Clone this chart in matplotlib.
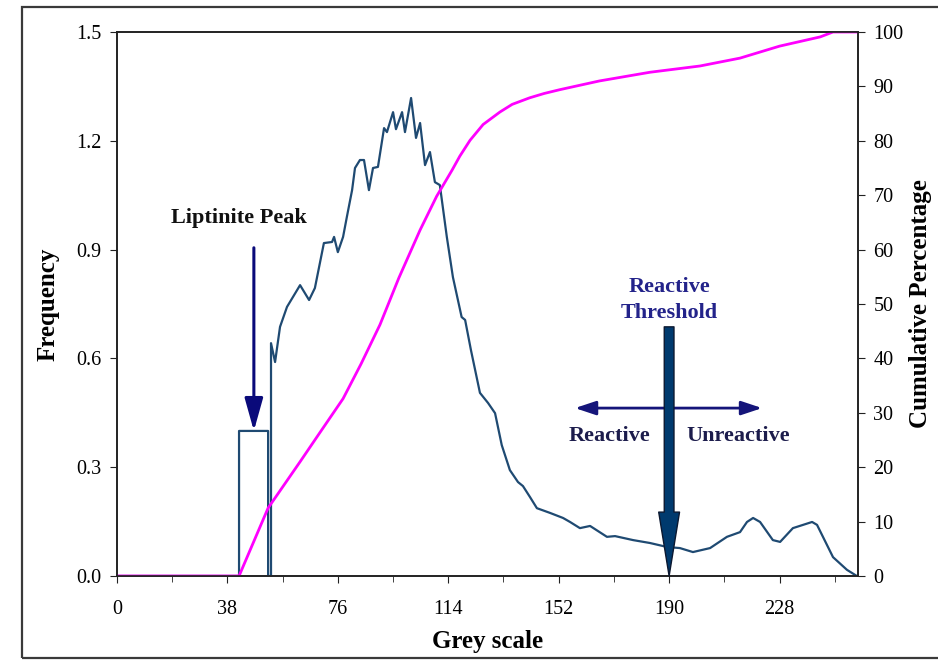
import matplotlib
matplotlib.use("Agg")
import matplotlib.pyplot as plt
from matplotlib.patches import Rectangle
from matplotlib.ticker import MultipleLocator

plt.rcParams['font.family'] = ['Liberation Serif', 'DejaVu Serif']

# Frequency histogram (grey scale vs frequency)
grey = [0, 42, 42, 52, 52, 53, 53, 54.4, 56.1, 58.5, 63.0, 66.1, 68.1, 71.2, 74.0, 74.7,
        76.0, 77.8, 79.1, 80.9, 81.9, 83.6, 85.0, 86.7, 88.1, 89.8, 91.9, 92.9, 95.0,
        96.0, 98.1, 99.1, 101.2, 102.9, 104.3, 106.0, 107.7, 109.4, 111.1, 113.5,
        115.6, 118.6, 119.8, 121.8, 124.9, 127.7, 130.1, 132.4, 135.2, 138.0, 139.7,
        142.1, 144.5, 149.0, 153.5, 155.9, 159.3, 162.8, 168.6, 171.4, 177.6, 183.4,
        189.3, 193.7, 198.2, 204.1, 209.9, 214.4, 216.8, 218.9, 221.3, 225.7, 228.2,
        232.6, 236.1, 239.2, 240.9, 246.4, 251.2, 254.6]
frequency = [0, 0, 0.40, 0.40, 0, 0, 0.642, 0.590, 0.687, 0.742, 0.802, 0.761, 0.794,
             0.918, 0.921, 0.935, 0.893, 0.935, 0.990, 1.064, 1.125, 1.147, 1.147,
             1.064, 1.125, 1.128, 1.235, 1.224, 1.279, 1.232, 1.279, 1.224, 1.318,
             1.208, 1.249, 1.133, 1.169, 1.086, 1.078, 0.935, 0.824, 0.714, 0.706,
             0.623, 0.505, 0.477, 0.449, 0.361, 0.292, 0.259, 0.248, 0.218, 0.187,
             0.174, 0.160, 0.149, 0.132, 0.138, 0.108, 0.110, 0.099, 0.091, 0.080,
             0.077, 0.066, 0.077, 0.108, 0.121, 0.149, 0.160, 0.149, 0.099, 0.094,
             0.132, 0.141, 0.149, 0.141, 0.052, 0.017, 0.0]

# Cumulative percentage
cum_grey = [0, 42, 52, 63, 70, 77.8, 84, 90.5, 97, 104.3, 110, 115.3, 118, 121.5, 126,
            131.8, 136, 142, 147, 152.4, 166, 183.4, 200.6, 214.4, 228, 242, 246.4, 255]
cum_pct = [0, 0, 12.5, 21, 26.5, 32.6, 39, 46.2, 54.8, 63.6, 69.8, 74.6, 77.2, 80.1,
           83.0, 85.3, 86.7, 87.9, 88.7, 89.4, 91, 92.6, 93.75, 95.2, 97.4, 99.1, 100, 100]

x_ticks = [0, 38, 76, 114, 152, 190, 228]
y_ticks = [0.0, 0.3, 0.6, 0.9, 1.2, 1.5]
y2_ticks = [0, 10, 20, 30, 40, 50, 60, 70, 80, 90, 100]

threshold = 190

fig = plt.figure(figsize=(9.38, 6.61), dpi=100)
fig.patches.append(Rectangle((22/938, 3/661), 1.0, 651/661, transform=fig.transFigure,
                             fill=False, ec='#3a3a3a', lw=1.6))
ax = fig.add_axes([117/938, 1-576/661, 741/938, 544/661])
ax2 = ax.twinx()

ax.plot(grey, frequency, color='#1f4a72', lw=1.6, zorder=3)
ax2.plot(cum_grey, cum_pct, color='#ff00ff', lw=2.0, zorder=2)

ax.set_xlim(0, 255)
ax.set_ylim(0, 1.5)
ax2.set_ylim(0, 100)
ax.set_xticks(x_ticks)
ax.xaxis.set_minor_locator(MultipleLocator(19))
ax.set_yticks(y_ticks)
ax.set_yticklabels([f"{v:.1f}" for v in y_ticks])
ax2.set_yticks(y2_ticks)

for a in (ax, ax2):
    for s in a.spines.values():
        s.set_color('#222222')
        s.set_linewidth(1.2)
ax.tick_params(axis='both', which='both', direction='out', labelsize=14.5, color='#222222')
ax.tick_params(axis='x', which='major', length=5, pad=12)
ax.tick_params(axis='x', which='minor', length=4)
ax.tick_params(axis='y', length=5, pad=6)
ax2.tick_params(axis='y', direction='out', length=5, labelsize=14.5, pad=6, color='#222222')

ax.set_xlabel('Grey scale', fontsize=18, fontweight='bold', labelpad=8)
ax.set_ylabel('Frequency', fontsize=18, fontweight='bold', labelpad=12)
ax2.set_ylabel('Cumulative Percentage', fontsize=18, fontweight='bold', labelpad=4)

# Annotations (drawn on ax2 which is on top, using ax data coords)
tr = ax.transData
ax2.text(41.8, 0.987, 'Liptinite Peak', transform=tr, ha='center', va='center',
         fontsize=16, fontweight='bold', color='#111111')
ax2.annotate('', xy=(47.1, 0.40), xytext=(47.1, 0.905), xycoords=tr, textcoords=tr,
             arrowprops=dict(arrowstyle='-|>,head_length=1.0,head_width=0.28',
                             color='#0a0a7a', lw=2.2, mutation_scale=20,
                             shrinkA=0, shrinkB=0))

ax2.text(threshold, 0.762, 'Reactive\nThreshold', transform=tr, ha='center',
         va='center', fontsize=16, fontweight='bold', color='#23238a', linespacing=1.4)
ax2.annotate('', xy=(157.6, 0.463), xytext=(222.0, 0.463), xycoords=tr, textcoords=tr,
             arrowprops=dict(arrowstyle='<|-|>,head_length=0.9,head_width=0.3',
                             color='#15157a', lw=2.0, mutation_scale=14,
                             shrinkA=0, shrinkB=0))
ax2.annotate('', xy=(threshold, 0.0), xytext=(threshold, 0.687), xycoords=tr,
             textcoords=tr,
             arrowprops=dict(arrowstyle='simple,head_length=4.6,head_width=1.5,tail_width=0.7',
                             fc='#003a6e', ec='#0b1830', lw=1.0, mutation_scale=10,
                             shrinkA=0, shrinkB=0))
ax2.text(169.6, 0.386, 'Reactive', transform=tr, ha='center', va='center',
         fontsize=16, fontweight='bold', color='#1c1c4c')
ax2.text(213.7, 0.386, 'Unreactive', transform=tr, ha='center', va='center',
         fontsize=16, fontweight='bold', color='#1c1c4c')

fig.savefig('out.png', dpi=100)
